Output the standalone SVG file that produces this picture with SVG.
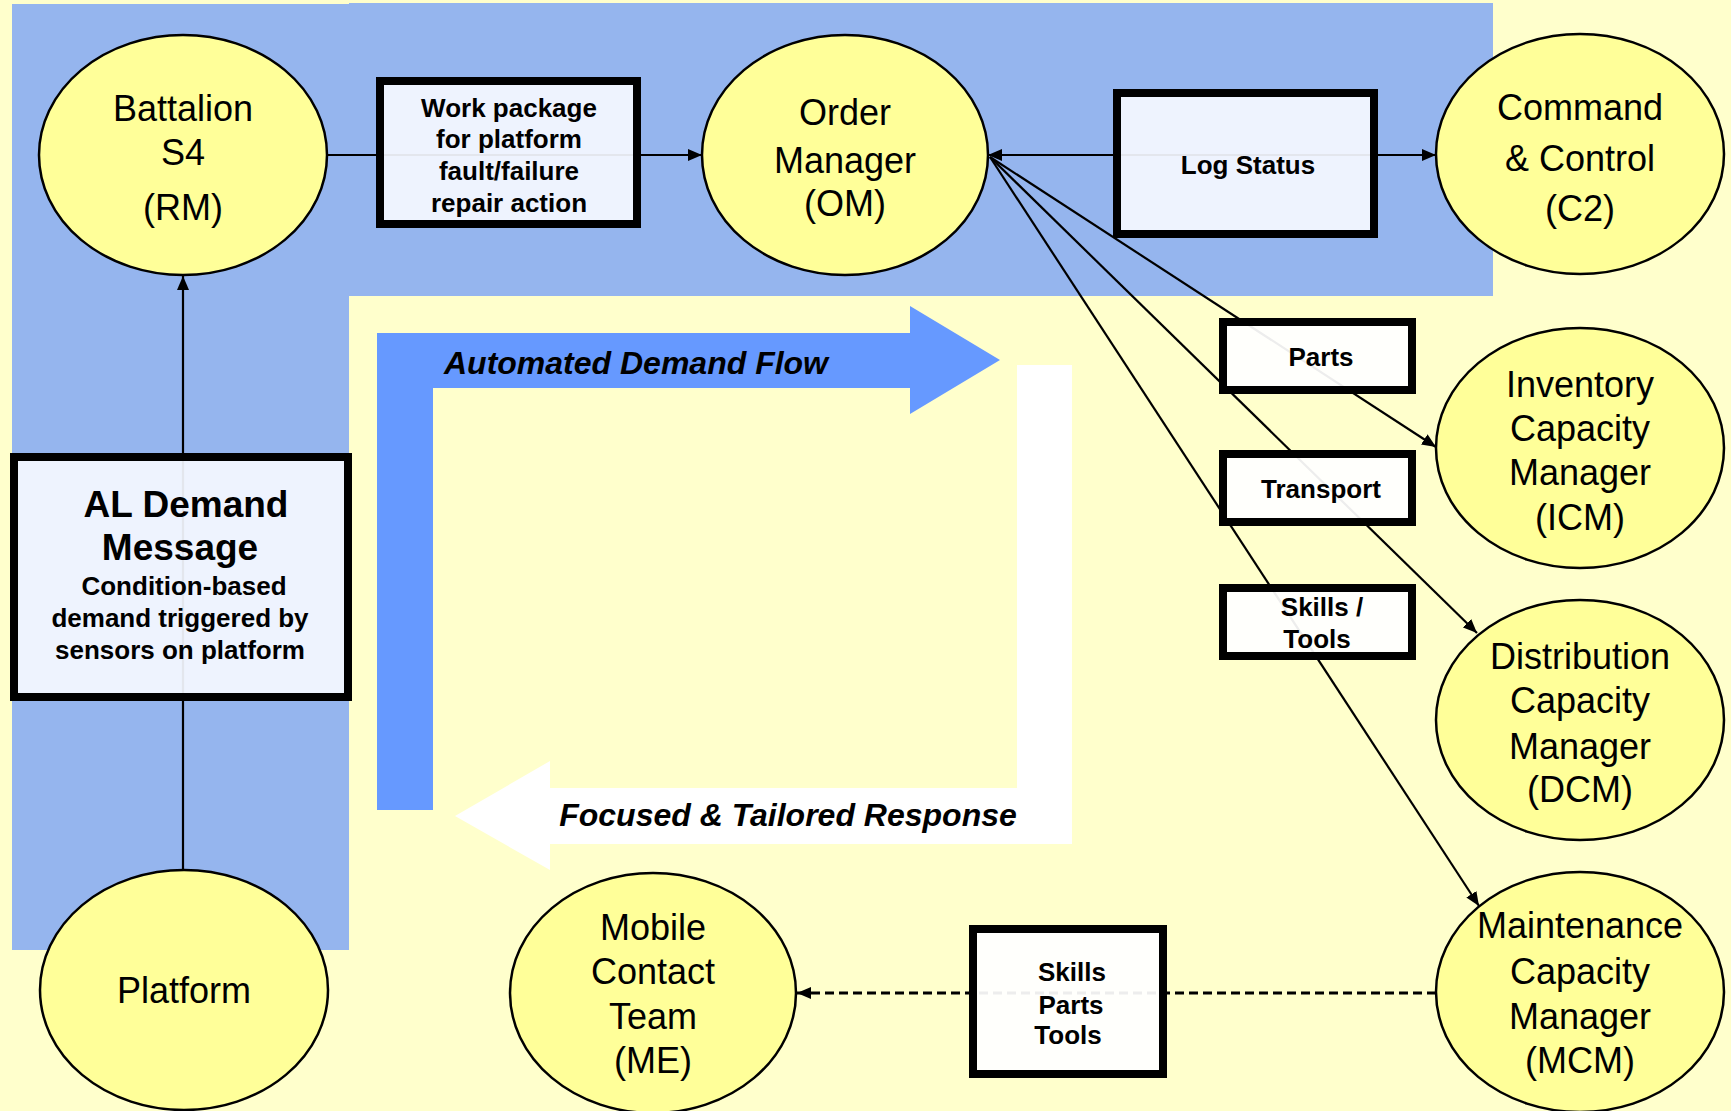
<svg xmlns="http://www.w3.org/2000/svg" width="1731" height="1111" viewBox="0 0 1731 1111">
<defs>
<marker id="ah" viewBox="0 0 14 12" refX="14" refY="6" markerWidth="14" markerHeight="12" markerUnits="userSpaceOnUse" orient="auto-start-reverse">
<path d="M0,0 L14,6 L0,12 Z" fill="#000"/>
</marker>
<style>
.ell{fill:#FFFF99;stroke:#000;stroke-width:2.5}
.et{font-family:"Liberation Sans",Arial,sans-serif;font-size:36px;text-anchor:middle;fill:#000}
.box{stroke:#000;stroke-width:8;fill:#F4F7FF;fill-opacity:0.93}
.wbox{stroke:#000;stroke-width:8;fill:#FFFFFF;fill-opacity:0.93}
.bt{font-family:"Liberation Sans",Arial,sans-serif;font-size:26px;font-weight:bold;text-anchor:middle;fill:#000}
.big{font-size:37px}
.it{font-family:"Liberation Sans",Arial,sans-serif;font-size:32px;font-weight:bold;font-style:italic;text-anchor:middle;fill:#000}
.ln{stroke:#000;stroke-width:2.2;fill:none}
.dash{stroke:#000;stroke-width:3;fill:none;stroke-dasharray:9 5}
</style>
</defs>
<rect x="0" y="0" width="1731" height="1111" fill="#FFFFCC"/>
<g id="background-regions">
<rect x="12" y="4" width="337" height="946" fill="#95B5EE"/>
<rect x="349" y="3" width="1144" height="293" fill="#95B5EE"/>
</g>
<g id="flow-arrows">
<polygon points="377,333 910,333 910,306 1000,360 910,414 910,388 433,388 433,810 377,810" fill="#6699FF"/>
<text class="it" x="636" y="374">Automated Demand Flow</text>
<polygon points="1017,365 1072,365 1072,844 550,844 550,870 455,816 550,761 550,788 1017,788" fill="#FFFFFF"/>
<text class="it" x="788" y="826">Focused &amp; Tailored Response</text>
</g>
<g id="connectors">
<line class="ln" x1="183" y1="870" x2="183" y2="276" marker-end="url(#ah)"/>
<line class="ln" x1="327" y1="155" x2="702" y2="155" marker-end="url(#ah)"/>
<line class="ln" x1="988" y1="155" x2="1436" y2="155" marker-start="url(#ah)" marker-end="url(#ah)"/>
<line class="ln" x1="990" y1="157" x2="1436" y2="447" marker-end="url(#ah)"/>
<line class="ln" x1="990" y1="157" x2="1477" y2="633" marker-end="url(#ah)"/>
<line class="ln" x1="990" y1="157" x2="1479" y2="906" marker-end="url(#ah)"/>
<line class="dash" x1="1436" y1="993" x2="797" y2="993" marker-end="url(#ah)"/>
</g>
<g id="battalion">
<ellipse class="ell" cx="183" cy="155" rx="144" ry="120"/>
<text class="et" x="183" y="121">Battalion</text>
<text class="et" x="183" y="165">S4</text>
<text class="et" x="183" y="220">(RM)</text>
</g>
<g id="order-manager">
<ellipse class="ell" cx="845" cy="155" rx="143" ry="120"/>
<text class="et" x="845" y="125">Order</text>
<text class="et" x="845" y="173">Manager</text>
<text class="et" x="845" y="216">(OM)</text>
</g>
<g id="command-control">
<ellipse class="ell" cx="1580" cy="154" rx="144" ry="120"/>
<text class="et" x="1580" y="120">Command</text>
<text class="et" x="1580" y="171">&amp; Control</text>
<text class="et" x="1580" y="221">(C2)</text>
</g>
<g id="icm">
<ellipse class="ell" cx="1580" cy="448" rx="144" ry="120"/>
<text class="et" x="1580" y="397">Inventory</text>
<text class="et" x="1580" y="441">Capacity</text>
<text class="et" x="1580" y="485">Manager</text>
<text class="et" x="1580" y="530">(ICM)</text>
</g>
<g id="dcm">
<ellipse class="ell" cx="1580" cy="720" rx="144" ry="120"/>
<text class="et" x="1580" y="669">Distribution</text>
<text class="et" x="1580" y="713">Capacity</text>
<text class="et" x="1580" y="759">Manager</text>
<text class="et" x="1580" y="802">(DCM)</text>
</g>
<g id="mcm">
<ellipse class="ell" cx="1580" cy="992" rx="144" ry="120"/>
<text class="et" x="1580" y="938">Maintenance</text>
<text class="et" x="1580" y="984">Capacity</text>
<text class="et" x="1580" y="1029">Manager</text>
<text class="et" x="1580" y="1073">(MCM)</text>
</g>
<g id="mobile-contact-team">
<ellipse class="ell" cx="653" cy="993" rx="143" ry="120"/>
<text class="et" x="653" y="940">Mobile</text>
<text class="et" x="653" y="984">Contact</text>
<text class="et" x="653" y="1029">Team</text>
<text class="et" x="653" y="1073">(ME)</text>
</g>
<g id="platform">
<ellipse class="ell" cx="184" cy="990" rx="144" ry="120"/>
<text class="et" x="184" y="1003">Platform</text>
</g>
<g id="work-package">
<rect class="box" x="380" y="81" width="257" height="143"/>
<text class="bt" x="509" y="117">Work package</text>
<text class="bt" x="509" y="148">for platform</text>
<text class="bt" x="509" y="180">fault/failure</text>
<text class="bt" x="509" y="212">repair action</text>
</g>
<g id="log-status">
<rect class="box" x="1117" y="93" width="257" height="141"/>
<text class="bt" x="1248" y="174">Log Status</text>
</g>
<g id="parts">
<rect class="wbox" x="1223" y="322" width="189" height="68"/>
<text class="bt" x="1321" y="366">Parts</text>
</g>
<g id="transport">
<rect class="wbox" x="1223" y="454" width="189" height="68"/>
<text class="bt" x="1321" y="498">Transport</text>
</g>
<g id="skills-tools">
<rect class="wbox" x="1223" y="588" width="189" height="68"/>
<text class="bt" x="1322" y="616">Skills /</text>
<text class="bt" x="1317" y="648">Tools</text>
</g>
<g id="skills-parts-tools">
<rect class="wbox" x="973" y="929" width="190" height="145"/>
<text class="bt" x="1072" y="981">Skills</text>
<text class="bt" x="1071" y="1014">Parts</text>
<text class="bt" x="1068" y="1044">Tools</text>
</g>
<g id="al-demand-message">
<rect class="box" x="14" y="457" width="334" height="240"/>
<text class="bt big" x="186" y="517">AL Demand</text>
<text class="bt big" x="180" y="560">Message</text>
<text class="bt" x="184" y="595">Condition-based</text>
<text class="bt" x="180" y="627">demand triggered by</text>
<text class="bt" x="180" y="659">sensors on platform</text>
</g>
</svg>
